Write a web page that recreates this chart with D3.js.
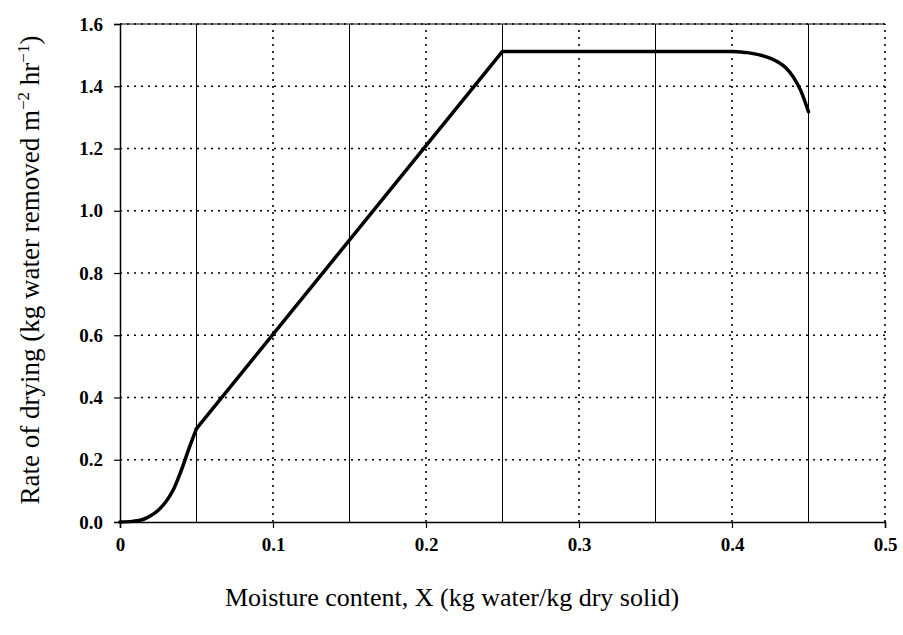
<!DOCTYPE html>
<html>
<head>
<meta charset="utf-8">
<script src="https://cdn.jsdelivr.net/npm/d3@7"></script>
<style>
  body { margin: 0; background: #fff; }
  svg { display: block; }
</style>
</head>
<body>
<svg id="chart" width="903" height="635"></svg>
<script>
// drying rate curve
// falling-rate tail near zero
const startX = [0, 0.008, 0.015, 0.02, 0.025, 0.03, 0.035, 0.04, 0.045, 0.05];
const startY = [0, 0.002, 0.008, 0.02, 0.038, 0.065, 0.105, 0.165, 0.235, 0.3];
// linear section and constant-rate period
const midX = [0.05, 0.25, 0.40];
const midY = [0.3, 1.512, 1.512];
// roll-off at high moisture
const endX = [0.40, 0.41, 0.42, 0.43, 0.435, 0.44, 0.445, 0.45];
const endY = [1.512, 1.508, 1.498, 1.478, 1.46, 1.43, 1.385, 1.318];

const xTicks = [0, 0.1, 0.2, 0.3, 0.4, 0.5];
const yTicks = [0, 0.2, 0.4, 0.6, 0.8, 1.0, 1.2, 1.4, 1.6];
const solidLines = [0.05, 0.15, 0.25, 0.35, 0.45];

const serif = '"Liberation Serif", "Times New Roman", serif';
const svg = d3.select('#chart');
const margin = {left: 120, right: 18, top: 24, bottom: 113};
const W = 903, H = 635;

const x = d3.scaleLinear().domain([0, 0.5]).range([margin.left, W - margin.right]);
const y = d3.scaleLinear().domain([0, 1.6]).range([H - margin.bottom, margin.top]);

// gridlines
const grid = svg.append('g');
grid.selectAll('.hg').data(yTicks.slice(1)).enter().append('line')
    .attr('x1', x(0)).attr('x2', x(0.5))
    .attr('y1', y).attr('y2', y)
    .attr('stroke', '#000').attr('stroke-width', 1.6)
    .attr('stroke-dasharray', '2,5');

grid.selectAll('.vg').data(xTicks.slice(1)).enter().append('line')
    .attr('x1', x).attr('x2', x)
    .attr('y1', y(0)).attr('y2', y(1.6))
    .attr('stroke', '#000').attr('stroke-width', 1.6)
    .attr('stroke-dasharray', '2,5');

grid.selectAll('.vs').data(solidLines).enter().append('line')
    .attr('x1', x).attr('x2', x)
    .attr('y1', y(0)).attr('y2', y(1.6))
    .attr('stroke', '#000').attr('stroke-width', 1);

// top border
svg.append('line')
    .attr('x1', x(0)).attr('x2', x(0.5))
    .attr('y1', y(1.6)).attr('y2', y(1.6))
    .attr('stroke', '#000').attr('stroke-width', 1);

// axes
const xAxis = svg.append('g')
    .attr('transform', `translate(0,${y(0)})`)
    .call(d3.axisBottom(x).tickValues(xTicks).tickSize(6).tickPadding(10)
        .tickFormat(d => d === 0 ? '0' : d3.format('.1f')(d)));
const yAxis = svg.append('g')
    .attr('transform', `translate(${x(0)},0)`)
    .call(d3.axisLeft(y).tickValues(yTicks).tickSize(6).tickPadding(11)
        .tickFormat(d3.format('.1f')));

[xAxis, yAxis].forEach(a => {
    a.attr('font-family', serif).attr('font-size', 19);
    a.select('.domain').attr('stroke', '#000').attr('stroke-width', 1.5);
    a.selectAll('.tick line').attr('stroke', '#000').attr('stroke-width', 1.2);
    a.selectAll('.tick text')
        .style('font-family', serif)
        .style('font-size', '19px').style('font-weight', 'bold').attr('fill', '#000');
});

// curve, in three pieces
const lineGen = d3.line().x(d => x(d[0])).y(d => y(d[1]));
const pieces = [
    {xs: startX, ys: startY, curve: d3.curveMonotoneX},
    {xs: midX, ys: midY, curve: d3.curveLinear},
    {xs: endX, ys: endY, curve: d3.curveMonotoneX}
];
pieces.forEach(p => {
    svg.append('path')
        .datum(p.xs.map((v, i) => [v, p.ys[i]]))
        .attr('d', lineGen.curve(p.curve))
        .attr('fill', 'none')
        .attr('stroke', '#000')
        .attr('stroke-width', 3.5)
        .attr('stroke-linejoin', 'round')
        .attr('stroke-linecap', 'round');
});

// axis titles
svg.append('text')
    .attr('x', 452).attr('y', 606)
    .attr('text-anchor', 'middle')
    .style('font-family', serif)
    .style('font-size', '26px')
    .text('Moisture content, X (kg water/kg dry solid)');

const yt = svg.append('text')
    .attr('transform', 'translate(39,270) rotate(-90)')
    .attr('text-anchor', 'middle')
    .style('font-family', serif)
    .style('font-size', '27px');
yt.append('tspan').text('Rate of drying (kg water removed m');
yt.append('tspan').attr('dy', -10).style('font-size', '17px').text('−2');
yt.append('tspan').attr('dy', 10).text(' hr');
yt.append('tspan').attr('dy', -10).style('font-size', '17px').text('−1');
yt.append('tspan').attr('dy', 10).text(')');
</script>
</body>
</html>
